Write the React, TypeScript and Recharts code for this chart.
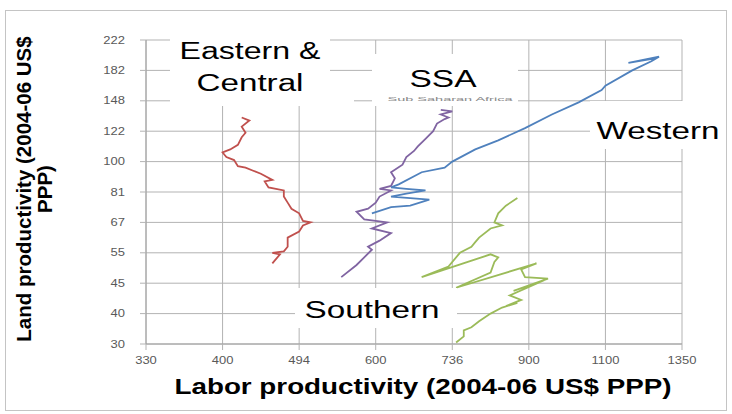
import React from 'react';
import { ScatterChart, Scatter, XAxis, YAxis, CartesianGrid } from 'recharts';

// axes are in natural-log units; labels show the US$ values
const xTicks = [5.8, 6.0, 6.2, 6.4, 6.6, 6.8, 7.0, 7.2];
const xTickLabels = ['330', '400', '494', '600', '736', '900', '1100', '1350'];
const yTicks = [3.4, 3.6, 3.8, 4.0, 4.2, 4.4, 4.6, 4.8, 5.0, 5.2, 5.4];
const yTickLabels = ['30', '40', '45', '55', '67', '81', '100', '122', '148', '182', '222'];

// Eastern & Central
const easternLabor = [6.13, 6.15, 6.13, 6.16, 6.17, 6.17, 6.20, 6.21, 6.23, 6.21, 6.20, 6.18, 6.17, 6.16, 6.16, 6.12, 6.11, 6.13, 6.10, 6.08, 6.06, 6.04, 6.03, 6.01, 6.00, 6.02, 6.04, 6.05, 6.06, 6.05, 6.07, 6.05];
const easternLand = [3.93, 3.99, 4.00, 4.01, 4.04, 4.10, 4.14, 4.18, 4.20, 4.21, 4.26, 4.29, 4.33, 4.37, 4.41, 4.43, 4.47, 4.48, 4.52, 4.54, 4.56, 4.57, 4.61, 4.63, 4.66, 4.68, 4.71, 4.76, 4.79, 4.83, 4.87, 4.89];

// SSA
const ssaLabor = [6.31, 6.35, 6.37, 6.39, 6.38, 6.41, 6.44, 6.39, 6.43, 6.37, 6.35, 6.38, 6.40, 6.41, 6.44, 6.41, 6.44, 6.45, 6.44, 6.47, 6.48, 6.50, 6.51, 6.53, 6.55, 6.56, 6.58, 6.59, 6.57, 6.60, 6.57];
const ssaLand = [3.84, 3.92, 3.97, 4.02, 4.04, 4.08, 4.13, 4.16, 4.20, 4.22, 4.27, 4.29, 4.33, 4.37, 4.41, 4.42, 4.44, 4.49, 4.53, 4.58, 4.63, 4.67, 4.70, 4.75, 4.80, 4.85, 4.88, 4.89, 4.91, 4.93, 4.94];

// Western
const westernLabor = [6.39, 6.44, 6.49, 6.54, 6.49, 6.44, 6.48, 6.53, 6.48, 6.44, 6.46, 6.52, 6.58, 6.60, 6.66, 6.72, 6.79, 6.86, 6.93, 6.99, 7.00, 7.07, 7.12, 7.14, 7.06, 7.13];
const westernLand = [4.26, 4.30, 4.31, 4.35, 4.36, 4.37, 4.39, 4.41, 4.42, 4.43, 4.45, 4.53, 4.56, 4.60, 4.68, 4.74, 4.82, 4.91, 4.99, 5.07, 5.10, 5.20, 5.26, 5.29, 5.25, 5.28];

// Southern
const southernLabor = [6.61, 6.63, 6.63, 6.65, 6.67, 6.70, 6.73, 6.77, 6.74, 6.78, 6.75, 6.84, 6.76, 6.85, 6.79, 6.78, 6.82, 6.61, 6.70, 6.71, 6.72, 6.70, 6.52, 6.59, 6.62, 6.65, 6.66, 6.67, 6.70, 6.73, 6.71, 6.72, 6.74, 6.77];
const southernLand = [3.41, 3.45, 3.49, 3.51, 3.55, 3.60, 3.64, 3.67, 3.65, 3.69, 3.72, 3.82, 3.75, 3.83, 3.84, 3.89, 3.93, 3.77, 3.87, 3.94, 3.97, 3.99, 3.84, 3.91, 4.00, 4.04, 4.07, 4.10, 4.16, 4.18, 4.20, 4.26, 4.31, 4.36];

const toPoints = (xs: number[], ys: number[]) => xs.map((x, i) => ({ x, y: ys[i] }));

const series = [
  { name: 'Eastern & Central', color: '#c0504d', data: toPoints(easternLabor, easternLand) },
  { name: 'SSA', color: '#8064a2', data: toPoints(ssaLabor, ssaLand) },
  { name: 'Western', color: '#4f81bd', data: toPoints(westernLabor, westernLand) },
  { name: 'Southern', color: '#9bbb59', data: toPoints(southernLabor, southernLand) },
];

const font = '"Liberation Sans", Arial, sans-serif';

const XTick = (props: any) => {
  const { x, y, payload, index } = props;
  const i = payload?.index ?? index;
  return (
    <g transform={`translate(${x},${y + 12}) scale(1.3,1)`}>
      <text textAnchor="middle" fontSize={10} fill="#595959" fontFamily={font}>{xTickLabels[i]}</text>
    </g>
  );
};

const YTick = (props: any) => {
  const { x, y, payload, index } = props;
  const i = payload?.index ?? index;
  return (
    <g transform={`translate(${x - 13},${y + 3.5}) scale(1.3,1)`}>
      <text textAnchor="end" fontSize={10} fill="#595959" fontFamily={font}>{yTickLabels[i]}</text>
    </g>
  );
};

const noDot = () => <g />;

const App: React.FC = () => {
  return (
    <div style={{ position: 'fixed', left: 0, top: 0, width: 732, height: 414, background: '#fff' }}>
      <ScatterChart width={732} height={414} margin={{ top: 40, right: 50, bottom: 40, left: 106 }}>
        <CartesianGrid stroke="#b3b3b3" />
        <XAxis
          type="number"
          dataKey="x"
          domain={[5.8, 7.2]}
          ticks={xTicks}
          interval={0}
          height={30}
          tick={<XTick />}
          tickSize={6}
          tickLine={{ stroke: '#b3b3b3' }}
          axisLine={{ stroke: '#a0a0a0' }}
          allowDataOverflow
        />
        <YAxis
          type="number"
          dataKey="y"
          domain={[3.4, 5.4]}
          ticks={yTicks}
          interval={0}
          width={40}
          tick={<YTick />}
          tickSize={6}
          tickLine={{ stroke: '#b3b3b3' }}
          axisLine={{ stroke: '#a0a0a0' }}
          allowDataOverflow
        />
        {series.map((s) => (
          <Scatter
            key={s.name}
            name={s.name}
            data={s.data}
            fill={s.color}
            line={{ stroke: s.color, strokeWidth: 1.8 }}
            shape={noDot}
            isAnimationActive={false}
          />
        ))}
      </ScatterChart>
      <svg width={732} height={414} style={{ position: 'absolute', left: 0, top: 0, pointerEvents: 'none' }} fontFamily={font}>
        <rect x={5.5} y={10.5} width={721} height={400} fill="none" stroke="#c4c4c4" />
        <rect x={170} y={28} width={160} height={78} fill="#fff" />
        <rect x={330} y={90} width={24} height={16} fill="#fff" />
        <rect x={372} y={54} width={146} height={52} fill="#fff" />
        <rect x={590} y={101} width={135} height={48} fill="#fff" />
        <rect x={295} y={288} width={162} height={40} fill="#fff" />
        <text x={250} y={59} fontSize={23} textAnchor="middle" textLength={141} lengthAdjust="spacingAndGlyphs">Eastern &amp;</text>
        <text x={250} y={91} fontSize={23} textAnchor="middle" textLength={107} lengthAdjust="spacingAndGlyphs">Central</text>
        <text x={443} y={87} fontSize={23} textAnchor="middle" textLength={67} lengthAdjust="spacingAndGlyphs">SSA</text>
        <text x={450} y={101} fontSize={6} fill="#888" textAnchor="middle" textLength={125} lengthAdjust="spacingAndGlyphs">Sub Saharan Africa</text>
        <text x={658} y={139} fontSize={23} textAnchor="middle" textLength={123} lengthAdjust="spacingAndGlyphs">Western</text>
        <text x={372} y={318} fontSize={23} textAnchor="middle" textLength={135} lengthAdjust="spacingAndGlyphs">Southern</text>
        <text x={423} y={394} fontSize={22} fontWeight="bold" textAnchor="middle" textLength={497} lengthAdjust="spacingAndGlyphs">Labor productivity (2004-06 US$ PPP)</text>
        <text transform="translate(31,189) rotate(-90)" fontSize={20.5} fontWeight="bold" textAnchor="middle">Land productivity (2004-06 US$</text>
        <text transform="translate(52,189) rotate(-90)" fontSize={20.5} fontWeight="bold" textAnchor="middle">PPP)</text>
      </svg>
    </div>
  );
};

export default App;
